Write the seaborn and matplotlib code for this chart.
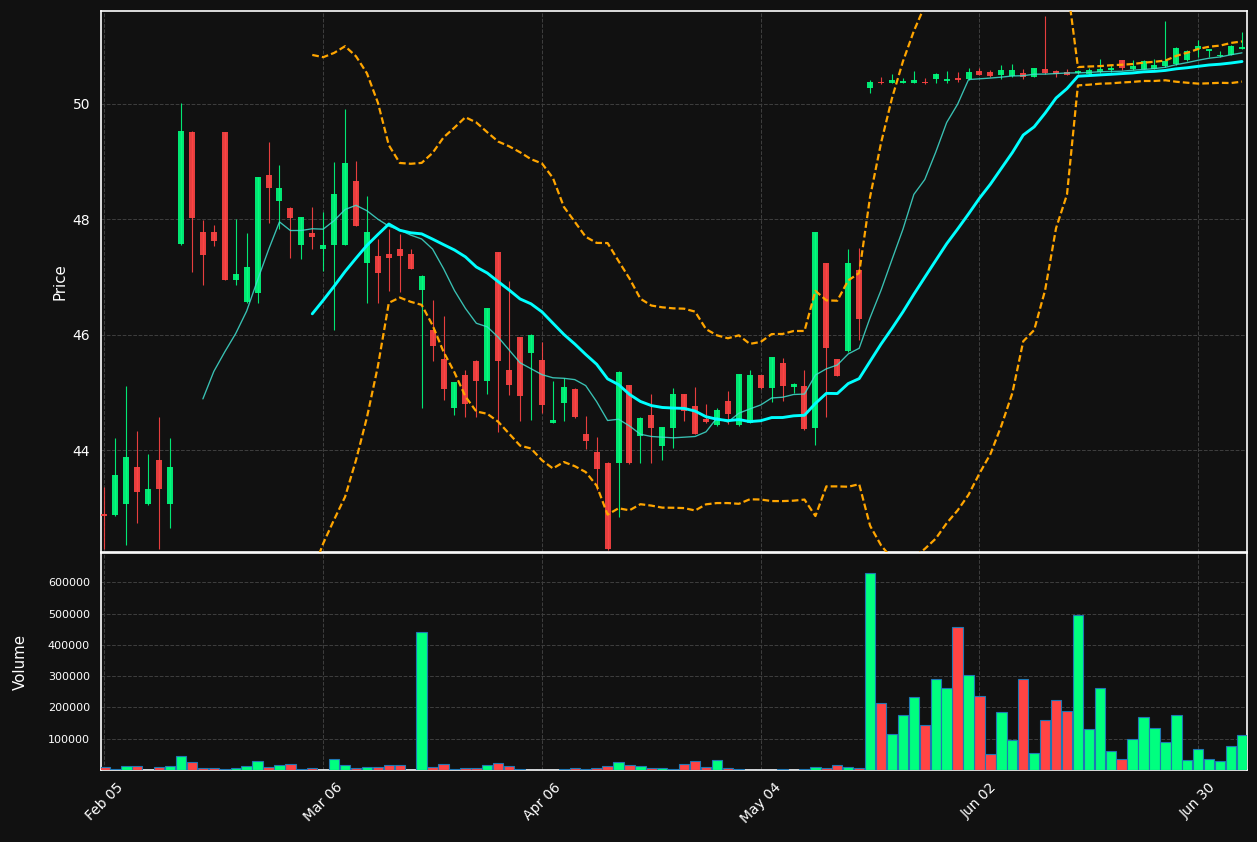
import numpy as np
import pandas as pd
import matplotlib
matplotlib.use('Agg')
import matplotlib.pyplot as plt
from matplotlib.ticker import MaxNLocator
import seaborn as sns

# daily OHLC + volume
opens = [42.89, 42.88, 43.07, 43.71, 43.07, 43.83, 43.07, 47.58, 49.51, 47.78,
         47.78, 49.51, 46.96, 46.57, 46.73, 48.77, 48.32, 48.20, 47.56, 47.76,
         47.49, 47.55, 47.56, 48.67, 47.25, 47.37, 47.40, 47.49, 47.40, 46.78,
         46.08, 45.58, 44.73, 45.30, 45.55, 45.21, 47.43, 45.39, 45.96, 45.69,
         45.56, 44.48, 44.82, 45.06, 44.28, 43.97, 43.79, 43.78, 45.13, 44.25,
         44.61, 44.07, 44.39, 44.97, 44.77, 44.55, 44.44, 44.85, 44.44, 44.48,
         45.30, 45.08, 45.51, 45.10, 45.11, 44.39, 47.24, 45.58, 45.72, 47.12,
         50.28, 50.38, 50.37, 50.37, 50.37, 50.38, 50.43, 50.40, 50.45, 50.43,
         50.57, 50.56, 50.50, 50.48, 50.54, 50.47, 50.60, 50.57, 50.55, 50.53,
         50.52, 50.56, 50.59, 50.76, 50.60, 50.61, 50.61, 50.65, 50.69, 50.76,
         50.96, 50.91, 50.83, 50.85, 50.96]
highs = [43.37, 44.22, 45.11, 44.33, 43.93, 44.57, 44.22, 50.01, 49.53, 47.99,
         47.91, 49.52, 48.00, 47.76, 48.74, 49.34, 48.94, 48.21, 48.05, 48.21,
         48.13, 48.99, 49.91, 49.02, 48.40, 47.67, 47.83, 47.75, 47.48, 47.03,
         46.61, 46.33, 45.19, 45.39, 45.56, 46.47, 47.44, 46.93, 45.97, 46.01,
         45.88, 45.20, 45.26, 45.08, 44.59, 44.23, 43.80, 45.37, 45.14, 44.57,
         44.98, 44.41, 45.08, 44.98, 45.09, 44.81, 44.73, 45.03, 45.33, 45.39,
         45.31, 45.62, 45.60, 45.16, 45.39, 47.79, 47.25, 45.59, 47.48, 47.50,
         50.42, 50.46, 50.52, 50.45, 50.57, 50.45, 50.53, 50.57, 50.55, 50.62,
         50.62, 50.58, 50.68, 50.69, 50.61, 50.63, 51.53, 50.58, 50.60, 50.58,
         50.63, 50.78, 50.68, 50.77, 50.76, 50.77, 50.78, 51.44, 50.98, 50.93,
         51.10, 50.96, 50.91, 51.02, 51.24]
lows = [42.30, 42.87, 42.37, 42.75, 43.06, 42.30, 42.66, 47.55, 47.09, 46.86,
        47.54, 46.95, 46.86, 46.55, 46.55, 47.93, 47.83, 47.34, 47.31, 47.48,
        47.11, 46.08, 47.55, 47.88, 46.56, 46.55, 46.76, 46.75, 47.14, 44.74,
        45.55, 44.87, 44.61, 44.58, 44.57, 44.97, 44.32, 44.96, 44.51, 44.52,
        44.64, 44.47, 44.51, 44.56, 44.03, 43.31, 42.28, 42.84, 43.77, 43.79,
        43.79, 43.84, 44.05, 44.51, 44.28, 44.48, 44.43, 44.45, 44.43, 44.47,
        45.07, 44.83, 44.85, 45.00, 44.36, 44.10, 44.58, 45.28, 45.71, 45.91,
        50.19, 50.35, 50.36, 50.36, 50.36, 50.35, 50.36, 50.37, 50.38, 50.42,
        50.50, 50.47, 50.44, 50.47, 50.44, 50.46, 50.52, 50.47, 50.50, 50.52,
        50.51, 50.54, 50.56, 50.59, 50.59, 50.60, 50.60, 50.64, 50.68, 50.75,
        50.81, 50.82, 50.82, 50.84, 50.95]
closes = [42.87, 43.57, 43.88, 43.28, 43.33, 43.33, 43.71, 49.53, 48.03, 47.39,
          47.63, 46.96, 47.05, 47.17, 48.73, 48.55, 48.54, 48.03, 48.04, 47.69,
          47.56, 48.44, 48.98, 47.89, 47.79, 47.08, 47.34, 47.37, 47.15, 47.02,
          45.81, 45.06, 45.18, 44.80, 45.21, 46.46, 45.55, 45.14, 44.94, 46.00,
          44.78, 44.52, 45.09, 44.57, 44.17, 43.68, 42.29, 45.36, 43.78, 44.56,
          44.39, 44.40, 44.98, 44.68, 44.29, 44.49, 44.70, 44.63, 45.32, 45.30,
          45.08, 45.61, 45.11, 45.15, 44.37, 47.78, 45.78, 45.29, 47.24, 46.28,
          50.38, 50.36, 50.42, 50.39, 50.42, 50.36, 50.52, 50.42, 50.41, 50.55,
          50.51, 50.49, 50.58, 50.59, 50.47, 50.62, 50.53, 50.52, 50.51, 50.57,
          50.59, 50.60, 50.63, 50.63, 50.65, 50.75, 50.68, 50.75, 50.97, 50.92,
          51.00, 50.95, 50.85, 51.01, 50.98]
volumes = [9000, 3000, 12500, 12500, 1000, 9000, 12500, 44500, 26000, 6000,
           6000, 3000, 6000, 12500, 29500, 9000, 16500, 20000, 3000, 6000,
           500, 36000, 16500, 6000, 9000, 9000, 16500, 16500, 500, 442000,
           9000, 20000, 3000, 6000, 6000, 16500, 23000, 12500, 3500, 0,
           0, 0, 2000, 6000, 2000, 6000, 12500, 26000, 16500, 12500,
           6000, 6000, 2000, 20000, 29500, 9000, 32500, 6000, 2000, 0,
           0, 0, 2000, 0, 2000, 9000, 6000, 16500, 9000, 6000,
           631000, 214000, 115000, 176000, 233500, 144000, 291000, 262500, 458000, 304000,
           237000, 51000, 185500, 96000, 291000, 54000, 160000, 224000, 189000, 496000,
           131000, 262500, 60500, 35000, 99000, 169500, 134000, 89500, 176000, 31500,
           67000, 35000, 28500, 76500, 112000]
tick_labels = ['Feb 05', 'Mar 06', 'Apr 06', 'May 04', 'Jun 02', 'Jun 30']

BG = '#111111'
UP = '#00ff7f'
DOWN = '#ff4444'

sns.set_theme(style='dark', rc={
    'figure.facecolor': BG,
    'axes.facecolor': BG,
    'axes.edgecolor': 'white',
    'axes.labelcolor': 'white',
    'text.color': 'white',
    'xtick.color': 'white',
    'ytick.color': 'white',
    'xtick.labelsize': 12.5,
    'ytick.labelsize': 12.5,
    'axes.labelsize': 13.5,
    'grid.color': '#3d3d3d',
    'grid.linestyle': '--',
    'grid.linewidth': 0.9,
})
plt.rcParams['font.family'] = ['DejaVu Sans']

df = pd.DataFrame({'open': opens, 'high': highs, 'low': lows,
                   'close': closes, 'volume': volumes})
df['idx'] = np.arange(len(df))
df['dir'] = np.where(df['close'] >= df['open'], 'up', 'down')
df['ma10'] = df['close'].rolling(10).mean()
df['ma20'] = df['close'].rolling(20).mean()
std20 = df['close'].rolling(20).std(ddof=0)
df['bb_up'] = df['ma20'] + 2 * std20
df['bb_lo'] = df['ma20'] - 2 * std20

fig = plt.figure(figsize=(1257 / 80, 842 / 80), dpi=80)
ax = fig.add_axes([0.0804, 0.3444, 0.9114, 0.6425])
axv = fig.add_axes([0.0804, 0.0855, 0.9114, 0.2577])

# candles
cols = np.where(df['dir'] == 'up', UP, DOWN)
ax.vlines(df['idx'], df['low'], df['high'], colors=cols, linewidth=1, alpha=0.9, zorder=2)
body_lo = np.minimum(df['open'], df['close'])
body_h = np.maximum((df['close'] - df['open']).abs(), 0.025)
ax.bar(df['idx'], body_h, bottom=body_lo, width=0.55, color=cols, alpha=0.9,
       linewidth=0, zorder=3)

# moving averages and bands
sns.lineplot(data=df, x='idx', y='ma10', ax=ax, color='#40e0d0', linewidth=1.2,
             alpha=0.85, zorder=4)
sns.lineplot(data=df, x='idx', y='ma20', ax=ax, color='#00ffff', linewidth=2.6, zorder=5)
for col in ['bb_up', 'bb_lo']:
    sns.lineplot(data=df, x='idx', y=col, ax=ax, color='orange', linewidth=2,
                 linestyle=(0, (3, 1.4)), zorder=6)

# volume
sns.barplot(data=df, x='idx', y='volume', hue='dir', palette={'up': UP, 'down': DOWN},
            dodge=False, native_scale=True, width=0.95, edgecolor='#1f77b4',
            linewidth=1, saturation=1, errorbar=None, legend=False, ax=axv, zorder=3)

ticks = np.arange(0, len(df), 20)
for a in (ax, axv):
    a.set_xlim(-0.31, 104.43)
    a.set_xticks(ticks)
    a.grid(True, which='major', axis='both', linestyle='--', color='#3d3d3d', linewidth=0.9)
    a.set_axisbelow(True)
    for s in a.spines.values():
        s.set_color('white')
        s.set_linewidth(1.5)
    a.tick_params(axis='y', length=5, width=1, pad=5, colors='white')

ax.set_ylim(42.24, 51.61)
ax.set_yticks([44, 46, 48, 50])
ax.set_xlabel('')
ax.set_ylabel('Price', labelpad=4)
ax.tick_params(axis='x', length=0, labelbottom=False)

axv.set_ylim(0, max(volumes) * 1.1)
axv.yaxis.set_major_locator(MaxNLocator(nbins=7, prune='lower'))
axv.ticklabel_format(axis='y', style='plain')
axv.tick_params(axis='y', labelsize=10)
axv.set_xlabel('')
axv.set_ylabel('Volume', labelpad=18)
axv.set_xticklabels(tick_labels, rotation=45, ha='center')
axv.tick_params(axis='x', length=5, width=1, pad=4, colors='white')

fig.savefig('out.png', dpi=80, facecolor=BG)
